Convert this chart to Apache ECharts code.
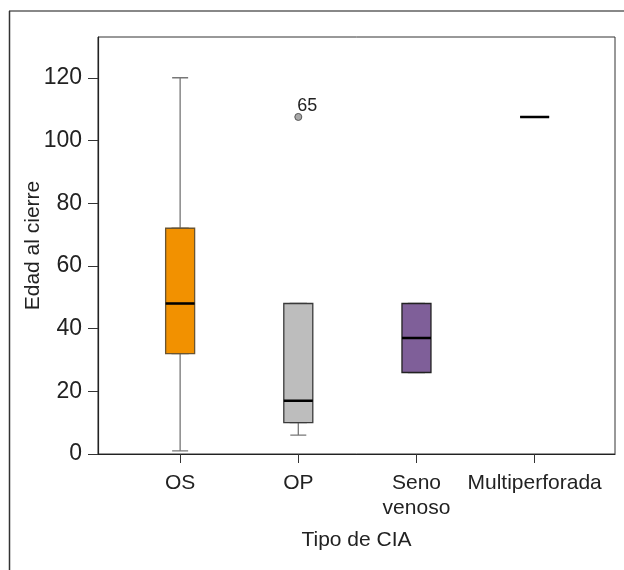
<!DOCTYPE html>
<html><head><meta charset="utf-8">
<script src="https://cdn.jsdelivr.net/npm/echarts@6/dist/echarts.min.js"></script>
<style>html,body{margin:0;padding:0;background:#fff}#c{width:624px;height:570px}</style>
</head><body><div id="c"></div>
<script>
const categories = ['OS', 'OP', 'Seno\nvenoso', 'Multiperforada'];
const mins = [1, 6, 26, 107.5];
const q1s = [32, 10, 26, 107.5];
const medians = [48, 17, 37, 107.5];
const q3s = [72, 48, 48, 107.5];
const maxs = [120, 48, 48, 107.5];
const boxColors = ['#F29100', '#BDBDBD', '#7F5F99', '#000000'];
const boxBorders = ['#6b5530', '#3a3a3a', '#222222', '#000000'];
const outlierCategory = [2];
const outlierValues = [107.5];
const outlierLabels = ['65'];
const yTicks = [0, 20, 40, 60, 80, 100, 120];
const xPositions = categories.map((c, i) => i + 1);

const FONT = "'Liberation Sans', Arial, sans-serif";
const TXT = '#222';
const xMin = 0.305, xMax = 4.68;

function xAxisDef(show) {
  return {
    type: 'value', min: xMin, max: xMax, show: show, position: 'bottom',
    splitLine: { show: false },
    axisLine: { show: true, onZero: false, lineStyle: { color: '#222', width: 1.2 } },
    axisTick: { show: true, length: 9, customValues: xPositions, lineStyle: { color: '#333', width: 1 } },
    axisLabel: {
      customValues: xPositions, margin: 17, color: TXT, fontFamily: FONT, fontSize: 21, lineHeight: 25,
      formatter: v => categories[Math.round(v) - 1] || ''
    },
    name: show ? 'Tipo de CIA' : '', nameLocation: 'middle', nameGap: 76, nameMoveOverlap: false,
    nameTextStyle: { color: TXT, fontFamily: FONT, fontSize: 21 }
  };
}

const chart = echarts.init(document.getElementById('c'), null, { renderer: 'canvas' });
chart.setOption({
  animation: false,
  backgroundColor: '#fff',
  graphic: [
    { type: 'line', shape: { x1: 9, y1: 11, x2: 624, y2: 11 }, style: { stroke: '#888', lineWidth: 2 } },
    { type: 'line', shape: { x1: 9.5, y1: 11, x2: 9.5, y2: 570 }, style: { stroke: '#333', lineWidth: 1.5 } }
  ],
  grid: { left: 98, top: 37, right: 9, bottom: 116, show: true, borderColor: '#333', borderWidth: 1, backgroundColor: 'transparent' },
  xAxis: [xAxisDef(true), xAxisDef(false), xAxisDef(false)],
  yAxis: {
    type: 'value', min: 0, max: 133,
    splitLine: { show: false },
    axisLine: { show: true, lineStyle: { color: '#222', width: 1.2 } },
    axisTick: { show: true, length: 10, customValues: yTicks, lineStyle: { color: '#333' } },
    axisLabel: { customValues: yTicks, margin: 16, color: TXT, fontFamily: FONT, fontSize: 23 },
    name: 'Edad al cierre', nameLocation: 'middle', nameGap: 54, nameMoveOverlap: false,
    nameTextStyle: { color: TXT, fontFamily: FONT, fontSize: 21 }
  },
  series: [
    {
      type: 'boxplot', xAxisIndex: 0, boxWidth: [16, 16],
      itemStyle: { color: '#fff', borderColor: '#777', borderWidth: 1.3 },
      data: xPositions.map((x, i) => [x, mins[i], q1s[i], medians[i], q3s[i], maxs[i]])
    },
    {
      type: 'boxplot', xAxisIndex: 1, boxWidth: [29, 29],
      data: xPositions.map((x, i) => ({
        value: [x, q1s[i], q1s[i], medians[i], q3s[i], q3s[i]],
        itemStyle: { color: boxColors[i], borderColor: boxBorders[i], borderWidth: 1.3 }
      }))
    },
    {
      type: 'boxplot', xAxisIndex: 2, boxWidth: [29, 29],
      itemStyle: { color: '#000', borderColor: '#000', borderWidth: 2.6 },
      data: xPositions.map((x, i) => [x, medians[i], medians[i], medians[i], medians[i], medians[i]])
    },
    {
      type: 'scatter', xAxisIndex: 0, symbol: 'circle', symbolSize: 7,
      itemStyle: { color: '#a8a8a8', borderColor: '#555', borderWidth: 1, opacity: 1 },
      label: {
        show: true, position: 'top', distance: 0, offset: [9, 2],
        formatter: p => outlierLabels[p.dataIndex], color: TXT, fontFamily: FONT, fontSize: 18
      },
      data: outlierCategory.map((c, i) => [c, outlierValues[i]])
    }
  ]
});
</script>
</body></html>
